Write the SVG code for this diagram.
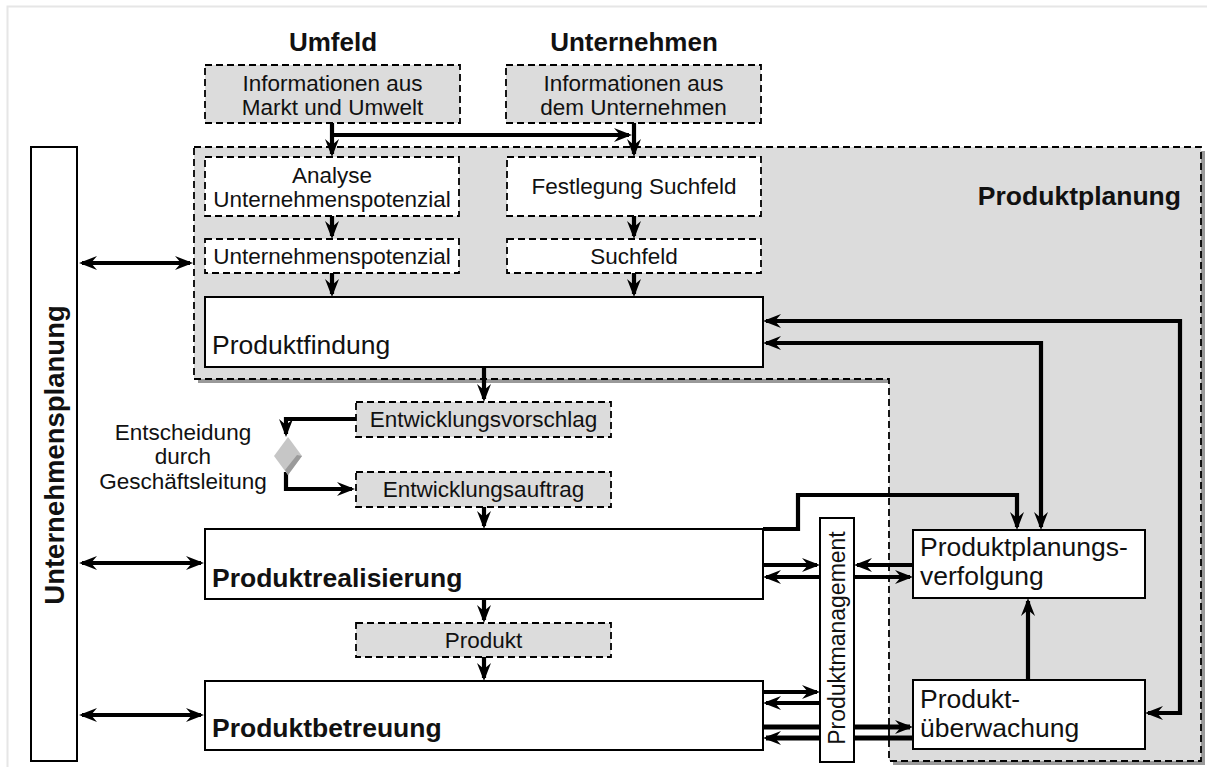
<svg xmlns="http://www.w3.org/2000/svg" width="1207" height="767" viewBox="0 0 1207 767">
  <defs>
    <marker id="arr" viewBox="0 0 18 14" markerWidth="18" markerHeight="14" refX="15" refY="7" orient="auto-start-reverse" markerUnits="userSpaceOnUse">
      <path d="M0,0 L18,7 L0,14 L6,7 Z" fill="#000"/>
    </marker>
  </defs>
  <style>
    text { font-family: "Liberation Sans", Arial, sans-serif; fill: #111; }
    .s { font-size: 22.5px; }
    .b { font-size: 26.5px; }
    .bold { font-weight: bold; }
    .mid { text-anchor: middle; }
    .dash-grey { fill: #dcdcdc; stroke: #000; stroke-width: 1.8; stroke-dasharray: 7 4; }
    .dash-white { fill: #fff; stroke: #000; stroke-width: 1.8; stroke-dasharray: 7 4; }
    .solid { fill: #fff; stroke: #000; stroke-width: 2; }
    .c { fill: none; stroke: #000; stroke-width: 4.2; }
    .c5 { fill: none; stroke: #000; stroke-width: 5; }
  </style>

  <rect x="0" y="0" width="1207" height="767" fill="#fff"/>
  <!-- page frame -->
  <rect x="7.5" y="6.5" width="1220" height="790" fill="none" stroke="#e6e6e6" stroke-width="2"/>

  <!-- Produktplanung area with drop shadow -->
  <g id="produktplanung-area">
    <path d="M198,151 H1205 V765 H893 V383 H198 Z" fill="#999"/>
    <path d="M194,147 H1201 V761 H889 V379 H194 Z" fill="#dcdcdc" stroke="#000" stroke-width="1.8" stroke-dasharray="7 4"/>
    <text class="b bold" x="1181" y="205" text-anchor="end">Produktplanung</text>
  </g>

  <!-- headers -->
  <g id="header-umfeld"><text class="bold mid" x="333" y="51" font-size="26">Umfeld</text></g>
  <g id="header-unternehmen"><text class="bold mid" x="634" y="51" font-size="26">Unternehmen</text></g>

  <!-- connectors -->
  <g id="connectors">
    <path class="c" d="M332,123 V154" marker-end="url(#arr)"/>
    <path class="c" d="M332,135 H629" marker-end="url(#arr)"/>
    <path class="c" d="M634,123 V154" marker-end="url(#arr)"/>
    <path class="c" d="M332,216 V236" marker-end="url(#arr)"/>
    <path class="c" d="M634,216 V236" marker-end="url(#arr)"/>
    <path class="c" d="M332,273 V294" marker-end="url(#arr)"/>
    <path class="c" d="M634,273 V294" marker-end="url(#arr)"/>
    <path class="c" d="M82,263 H190" marker-start="url(#arr)" marker-end="url(#arr)"/>
    <path class="c" d="M484,367 V399" marker-end="url(#arr)"/>
    <path class="c" d="M766,321 H1180 V713 H1148" marker-start="url(#arr)" marker-end="url(#arr)"/>
    <path class="c" d="M766,343 H1041 V527" marker-start="url(#arr)" marker-end="url(#arr)"/>
    <path class="c" d="M356,419 H286 V434" marker-end="url(#arr)"/>
    <path class="c" d="M286,472 V489 H352" marker-end="url(#arr)"/>
    <path class="c" d="M484,507 V526" marker-end="url(#arr)"/>
    <path class="c" d="M82,563 H201" marker-start="url(#arr)" marker-end="url(#arr)"/>
    <path class="c" d="M484,599 V620" marker-end="url(#arr)"/>
    <path class="c" d="M484,657 V678" marker-end="url(#arr)"/>
    <path class="c" d="M82,715 H201" marker-start="url(#arr)" marker-end="url(#arr)"/>
    <path class="c" d="M763,529 H798 V495 H1017 V527" marker-end="url(#arr)"/>
    <path class="c" d="M763,565 H817" marker-end="url(#arr)"/>
    <path class="c" d="M820,577 H766" marker-end="url(#arr)"/>
    <path class="c" d="M913,565 H857" marker-end="url(#arr)"/>
    <path class="c" d="M854,577 H910" marker-end="url(#arr)"/>
    <path class="c" d="M1028,680 V601" marker-end="url(#arr)"/>
    <path class="c" d="M763,692 H817" marker-end="url(#arr)"/>
    <path class="c" d="M820,703 H766" marker-end="url(#arr)"/>
    <path class="c5" d="M763,727 H910" marker-end="url(#arr)"/>
    <path class="c5" d="M913,738 H766" marker-end="url(#arr)"/>
  </g>

  <!-- nodes -->
  <g id="info-umfeld">
    <rect class="dash-grey" x="205" y="65" width="255" height="58"/>
    <text class="s mid" x="332.5" y="91">Informationen aus</text>
    <text class="s mid" x="332.5" y="115">Markt und Umwelt</text>
  </g>
  <g id="info-unternehmen">
    <rect class="dash-grey" x="506" y="65" width="255" height="58"/>
    <text class="s mid" x="633.5" y="91">Informationen aus</text>
    <text class="s mid" x="633.5" y="115">dem Unternehmen</text>
  </g>
  <g id="analyse">
    <rect class="dash-white" x="205" y="157" width="254" height="59"/>
    <text class="s mid" x="332" y="183">Analyse</text>
    <text class="s mid" x="332" y="207">Unternehmenspotenzial</text>
  </g>
  <g id="festlegung">
    <rect class="dash-white" x="507" y="157" width="254" height="59"/>
    <text class="s mid" x="634" y="194">Festlegung Suchfeld</text>
  </g>
  <g id="unternehmenspotenzial">
    <rect class="dash-white" x="205" y="239" width="254" height="34"/>
    <text class="s mid" x="332" y="264">Unternehmenspotenzial</text>
  </g>
  <g id="suchfeld">
    <rect class="dash-white" x="507" y="239" width="254" height="34"/>
    <text class="s mid" x="634" y="264">Suchfeld</text>
  </g>
  <g id="produktfindung">
    <rect class="solid" x="205" y="297" width="558" height="70"/>
    <text class="b" x="212" y="354">Produktfindung</text>
  </g>
  <g id="entwicklungsvorschlag">
    <rect class="dash-grey" x="356" y="402" width="255" height="35"/>
    <text class="s mid" x="483.5" y="427">Entwicklungsvorschlag</text>
  </g>
  <g id="entscheidung">
    <polygon points="288,437 302,456 288,475 274,456" fill="#c6c6c6"/>
    <polygon points="302,456 288,475 285,470 297,455" fill="#9a9a9a"/>
    <text class="s mid" x="183" y="440">Entscheidung</text>
    <text class="s mid" x="183" y="464">durch</text>
    <text class="s mid" x="183" y="489">Geschäftsleitung</text>
  </g>
  <g id="entwicklungsauftrag">
    <rect class="dash-grey" x="356" y="472" width="255" height="35"/>
    <text class="s mid" x="483.5" y="497">Entwicklungsauftrag</text>
  </g>
  <g id="produktrealisierung">
    <rect class="solid" x="205" y="529" width="558" height="70"/>
    <text class="b bold" x="212" y="587">Produktrealisierung</text>
  </g>
  <g id="produkt">
    <rect class="dash-grey" x="356" y="623" width="255" height="34"/>
    <text class="s mid" x="483.5" y="648">Produkt</text>
  </g>
  <g id="produktbetreuung">
    <rect class="solid" x="205" y="681" width="558" height="69"/>
    <text class="b bold" x="212" y="737">Produktbetreuung</text>
  </g>
  <g id="unternehmensplanung">
    <rect class="solid" x="31" y="147" width="46" height="614"/>
    <text class="bold mid" font-size="27.5" transform="translate(63.5,455) rotate(-90)">Unternehmensplanung</text>
  </g>
  <g id="produktmanagement">
    <rect class="solid" x="820" y="518" width="34" height="244"/>
    <text class="mid" font-size="23" transform="translate(845,638) rotate(-90)">Produktmanagement</text>
  </g>
  <g id="produktplanungsverfolgung">
    <rect class="solid" x="913" y="530" width="232" height="68"/>
    <text class="b" x="920" y="556">Produktplanungs-</text>
    <text class="b" x="920" y="585">verfolgung</text>
  </g>
  <g id="produktueberwachung">
    <rect class="solid" x="913" y="680" width="232" height="69"/>
    <text class="b" x="920" y="708">Produkt-</text>
    <text class="b" x="920" y="737">überwachung</text>
  </g>
</svg>
